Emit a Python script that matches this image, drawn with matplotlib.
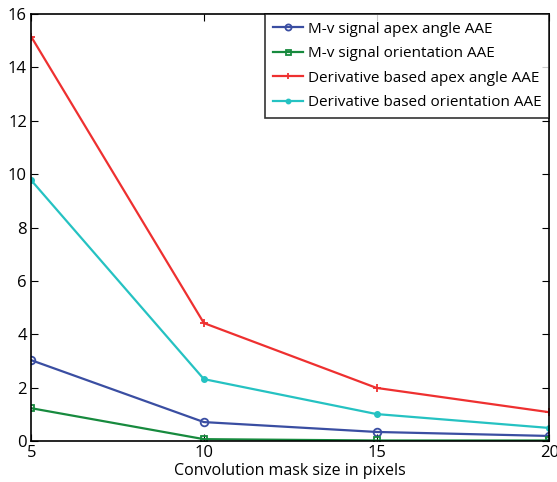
import matplotlib
matplotlib.use("Agg")
import matplotlib.pyplot as plt

plt.rcParams['font.family'] = ['Open Sans', 'DejaVu Sans']

x = [5, 10, 15, 20]
mv_apex = [3.03, 0.71, 0.34, 0.19]
mv_orient = [1.23, 0.07, 0.02, 0.02]
der_apex = [15.15, 4.42, 1.99, 1.08]
der_orient = [9.77, 2.32, 1.01, 0.49]

fig = plt.figure(figsize=(5.57, 4.82), dpi=100)
ax = fig.add_axes([0.056, 0.085, 0.93, 0.886])

ax.plot(x, mv_apex, color='#3a4ea2', marker='o', mfc='none', ms=5.5, mew=1.3, lw=1.6,
        label='M-v signal apex angle AAE')
ax.plot(x, mv_orient, color='#178a3e', marker='s', mfc='none', ms=4.5, mew=1.3, lw=1.6,
        label='M-v signal orientation AAE')
ax.plot(x, der_apex, color='#ee3030', marker='+', ms=6, mew=1.3, lw=1.6,
        label='Derivative based apex angle AAE')
ax.plot(x, der_orient, color='#25c2c2', marker='.', ms=8, lw=1.6,
        label='Derivative based orientation AAE')

ax.set_xlim(5, 20)
ax.set_ylim(0, 16)
ax.set_xticks([5, 10, 15, 20])
ax.set_yticks(range(0, 17, 2))
ax.tick_params(direction='in', top=True, right=True, labelsize=12, length=5, pad=3)
for s in ax.spines.values():
    s.set_linewidth(1.2)
ax.set_xlabel('Convolution mask size in pixels', fontsize=11.5, labelpad=1)

leg = ax.legend(loc='upper right', fontsize=11, frameon=True, fancybox=False,
                borderaxespad=0, handlelength=2.0, handletextpad=0.3,
                labelspacing=0.62, borderpad=0.5, markerscale=0.8)
leg.get_frame().set_edgecolor('black')
leg.get_frame().set_linewidth(1.2)

fig.savefig('out.png', dpi=100)
